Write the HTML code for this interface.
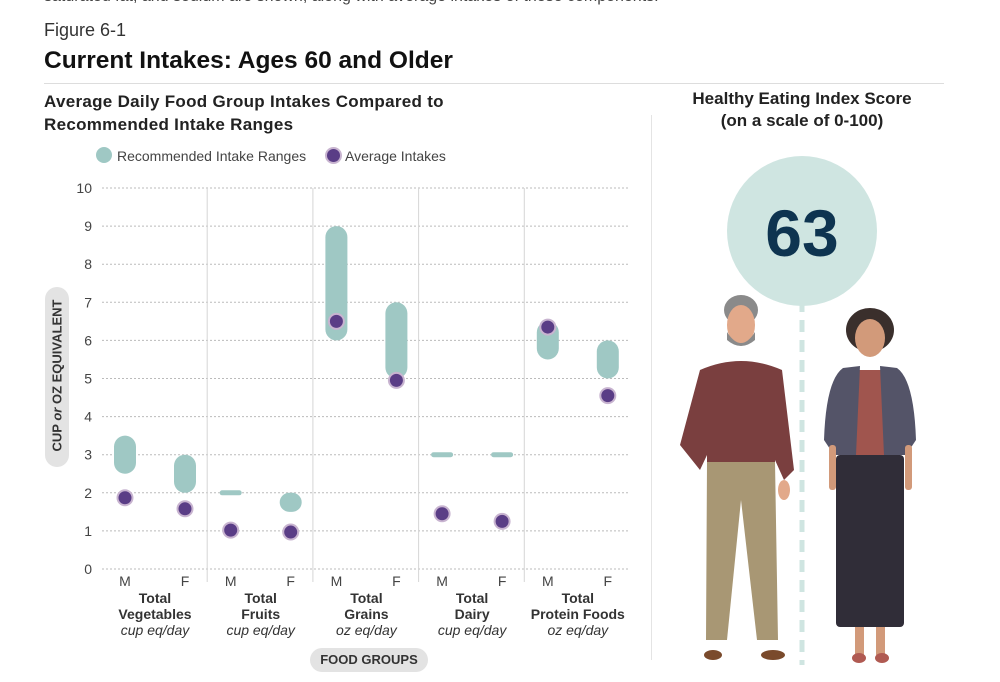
<!DOCTYPE html>
<html><head><meta charset="utf-8"><style>
body{margin:0;width:1000px;height:682px;background:#fff;font-family:"Liberation Sans",sans-serif;overflow:hidden;position:relative}
.t{position:absolute;white-space:nowrap}
</style></head><body>
<div class="t" style="left:44px;top:-12px;font-size:16px;color:#444">saturated fat, and sodium are shown, along with average intakes of these components.</div>
<div class="t" style="left:44px;top:20px;font-size:18px;color:#333">Figure 6-1</div>
<div class="t" style="left:44px;top:47px;font-size:24.5px;font-weight:bold;color:#111">Current Intakes: Ages 60 and Older</div>
<div style="position:absolute;left:44px;top:83px;width:900px;height:1px;background:#ddd"></div>
<div class="t" style="left:44px;top:90px;font-size:17px;font-weight:bold;color:#222;line-height:23px;letter-spacing:0.3px">Average Daily Food Group Intakes Compared to<br>Recommended Intake Ranges</div>
<div class="t" style="left:652px;top:88px;width:300px;text-align:center;font-size:17px;font-weight:bold;color:#222;line-height:22px">Healthy Eating Index Score<br>(on a scale of 0-100)</div>
<div style="position:absolute;left:651px;top:115px;width:1px;height:545px;background:#e4e4e4"></div>
<svg id="c" width="1000" height="682" style="position:absolute;left:0;top:0"></svg>
<script>
const groups=["Total|Vegetables|cup eq/day","Total|Fruits|cup eq/day","Total|Grains|oz eq/day","Total|Dairy|cup eq/day","Total|Protein Foods|oz eq/day"];
const sexes=["M","F","M","F","M","F","M","F","M","F"];
const rangeLow=[2.5,2,2,1.5,6,5,3,3,5.5,5];
const rangeHigh=[3.5,3,2,2,9,7,3,3,6.5,6];
const avgIntake=[1.87,1.58,1.02,0.97,6.5,4.95,1.45,1.25,6.35,4.55];
const yTicks=[0,1,2,3,4,5,6,7,8,9,10];
const S="http://www.w3.org/2000/svg",svg=document.getElementById('c');
const y=v=>569-v*38.1, x=i=>125+Math.floor(i/2)*105.7+(i%2)*60;
function el(t,a,p){const e=document.createElementNS(S,t);for(const k in a)e.setAttribute(k,a[k]);(p||svg).appendChild(e);return e;}
yTicks.forEach(v=>{
 const l=el('line',{x1:102,x2:630,y1:y(v),y2:y(v),stroke:'#bbb','stroke-dasharray':'2 2','stroke-width':1});
 
 const t=el('text',{x:92,y:y(v)+5,'text-anchor':'end','font-size':14,fill:'#444'});t.textContent=v;
 
});
[1,2,3,4].forEach(g=>{const l=el('line',{x1:101.5+g*105.7,x2:101.5+g*105.7,y1:188,y2:582,stroke:'#d6d6d6'});
 });
sexes.forEach((s,i)=>{
 const t=el('text',{x:x(i),y:586,'text-anchor':'middle','font-size':14,fill:'#444'});t.textContent=s;
 
 let top=y(rangeHigh[i]),bot=y(rangeLow[i]);if(bot-top<5){const m=(top+bot)/2;top=m-2.5;bot=m+2.5;}
 const r=el('rect',{x:x(i)-11,y:top,width:22,height:bot-top,rx:Math.min(11,(bot-top)/2),fill:'#9fc8c4'});
 
 const c=el('circle',{cx:x(i),cy:y(avgIntake[i]),r:7.5,fill:'#5a3d86',stroke:'#c8b4d0','stroke-width':2});
 
});
groups.forEach((g,k)=>{const p=g.split('|'),cx=(x(2*k)+x(2*k+1))/2;
 [p[0],p[1]].forEach((s,j)=>{const t=el('text',{x:cx,y:603+j*16,'text-anchor':'middle','font-size':14,'font-weight':'bold',fill:'#333'});t.textContent=s;
  });
 const u=el('text',{x:cx,y:635,'text-anchor':'middle','font-size':14,'font-style':'italic',fill:'#333'});u.textContent=p[2];
 
});
</script>
<div style="position:absolute;left:96px;top:147px;font-size:14px;color:#444">
 <span style="position:absolute;left:0;top:0;width:16px;height:16px;border-radius:8px;background:#9fc8c4"></span>
 <span class="t" style="left:21px;top:1px">Recommended Intake Ranges</span>
 <span style="position:absolute;left:229px;top:0;width:13px;height:13px;border-radius:50%;background:#5a3d86;border:2px solid #c8b4d0"></span>
 <span class="t" style="left:249px;top:1px">Average Intakes</span>
</div>
<div style="position:absolute;left:45px;top:287px;width:24px;height:180px;border-radius:12px;background:#e3e3e3"></div>
<div class="t" style="left:-33px;top:368px;width:180px;text-align:center;transform:rotate(-90deg);font-size:13px;font-weight:bold;color:#333">CUP <i>or</i> OZ EQUIVALENT</div>
<div class="t" style="left:310px;top:648px;width:118px;height:24px;border-radius:12px;background:#e3e3e3;text-align:center;line-height:24px;font-size:13px;font-weight:bold;color:#333">FOOD GROUPS</div>
<svg width="1000" height="682" style="position:absolute;left:0;top:0">
 <line x1="802" y1="300" x2="802" y2="665" stroke="#cfe5e1" stroke-width="5" stroke-dasharray="12 8"/>
 <circle cx="802" cy="231" r="75" fill="#cfe5e1"/>
 <text x="802" y="256" text-anchor="middle" font-size="66" font-weight="bold" fill="#0e3450" font-family="Liberation Sans">63</text>
 <g>
  <ellipse cx="741" cy="310" rx="17" ry="15" fill="#8a8a8a"/>
  <ellipse cx="741" cy="325" rx="14" ry="20" fill="#e2a98a"/>
  <path d="M727 332 Q741 354 755 332 L755 340 Q741 352 727 340Z" fill="#8a8a8a"/>
  <path d="M700 370 Q741 352 782 370 L794 470 L784 480 L775 460 L775 465 L707 465 L707 455 L700 470 L680 445 Z" fill="#7a3f3f"/>
  <path d="M707 462 L775 462 L778 640 L757 640 L741 500 L727 640 L706 640 Z" fill="#a89774"/>
  <ellipse cx="713" cy="655" rx="9" ry="5" fill="#7a4a2c"/><ellipse cx="773" cy="655" rx="12" ry="5" fill="#7a4a2c"/>
  <ellipse cx="784" cy="490" rx="6" ry="10" fill="#e2a98a"/>
 </g>
 <g>
  <ellipse cx="870" cy="330" rx="24" ry="22" fill="#3a2f2c"/>
  <ellipse cx="870" cy="338" rx="15" ry="19" fill="#d29a7a"/>
  <path d="M848 370 L892 370 L898 455 L842 455 Z" fill="#a0554e"/>
  <path d="M843 368 L860 366 L856 455 L834 455 L824 440 Q826 380 843 368Z M897 368 L880 366 L884 455 L906 455 L916 440 Q914 380 897 368Z" fill="#545468"/>
  <rect x="836" y="455" width="68" height="172" rx="4" fill="#302d38"/>
  <rect x="829" y="445" width="7" height="45" rx="3" fill="#d29a7a"/><rect x="905" y="445" width="7" height="45" rx="3" fill="#d29a7a"/>
  <rect x="855" y="627" width="9" height="28" fill="#d29a7a"/><rect x="876" y="627" width="9" height="28" fill="#d29a7a"/>
  <ellipse cx="859" cy="658" rx="7" ry="5" fill="#b05a52"/><ellipse cx="882" cy="658" rx="7" ry="5" fill="#b05a52"/>
 </g>
</svg>
</body></html>
